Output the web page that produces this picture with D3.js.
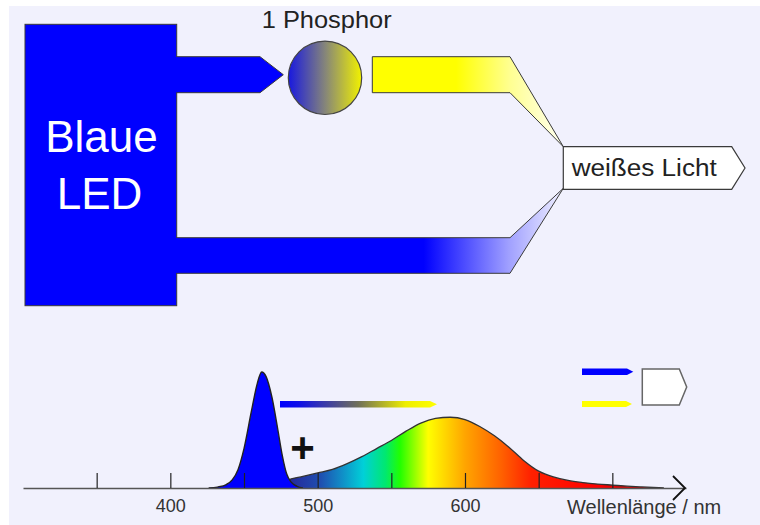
<!DOCTYPE html>
<html>
<head>
<meta charset="utf-8">
<script src="https://cdn.jsdelivr.net/npm/d3@7"></script>
<style>
body { margin: 0; background: #fff; }
svg { display: block; font-family: "Liberation Sans", Arial, Helvetica, sans-serif; }
</style>
</head>
<body>
<svg id="chart" width="760" height="525"></svg>
<script>
// blue LED emission (wavelength nm, relative intensity)
var blueNm  = [426, 432, 438, 442, 446, 450, 455, 459, 462, 465, 469, 473, 476, 479, 482, 486, 490];
var blueVal = [0, 0.008, 0.03, 0.07, 0.16, 0.34, 0.66, 0.9, 1.0, 0.96, 0.78, 0.5, 0.28, 0.12, 0.05, 0.015, 0];

// phosphor emission, same units
var phosNm  = [472, 480, 490, 500, 510, 520, 530, 540, 550, 560, 570, 580, 590, 600, 610, 620, 630, 640, 650, 660, 670, 680, 690, 700, 710, 720, 735];
var phosVal = [0, 0.07, 0.1, 0.13, 0.16, 0.21, 0.27, 0.34, 0.41, 0.49, 0.56, 0.60, 0.61, 0.59, 0.53, 0.45, 0.35, 0.235, 0.145, 0.095, 0.065, 0.047, 0.034, 0.025, 0.016, 0.009, 0];

// colours under the phosphor curve
var spectrumNm     = [480, 502, 517, 531, 546, 556, 575, 600, 625, 645, 690, 735];
var spectrumColors = ["#26269a", "#1f4fb0", "#1090c8", "#00d0d8", "#00e870", "#22ff00", "#ffff00", "#ffa500", "#ff6000", "#ff2000", "#ff0000", "#b00000"];

var tickValues = [350, 400, 450, 500, 550, 600, 650, 700];
var tickLabels = [400, 500, 600];
var axisTitle = "Wellenlänge / nm";

var svg = d3.select("#chart");
var defs = svg.append("defs");

function addGradient(id, x1, x2, stops, units) {
    var g = defs.append("linearGradient").attr("id", id)
        .attr("x1", x1).attr("x2", x2).attr("y1", 0).attr("y2", 0);
    if (units) g.attr("gradientUnits", units);
    g.selectAll("stop").data(stops).enter().append("stop")
        .attr("offset", function(d) { return d[0]; })
        .attr("stop-color", function(d) { return d[1]; });
}

addGradient("circGrad", 0, 1, [[0, "#1818e0"], [0.5, "#85857a"], [1, "#f2f200"]]);
addGradient("yellowGrad", 372, 563, [[0, "#ffff00"], [0.44, "#ffff00"], [0.72, "#ffff90"], [1, "#fffff2"]], "userSpaceOnUse");
addGradient("blueGrad", 176, 563, [[0, "#0000ff"], [0.64, "#0000ff"], [0.86, "#a0a0ff"], [1, "#f0f0ff"]], "userSpaceOnUse");
addGradient("barGrad", 280, 437, [[0, "#0000ff"], [0.12, "#1010e8"], [0.5, "#707058"], [0.8, "#eeee00"], [1, "#ffff00"]], "userSpaceOnUse");

// background
svg.append("rect").attr("x", 9).attr("y", 6).attr("width", 751).attr("height", 519).attr("fill", "#f1f1fd");

var poly = d3.line();
var edge = "#3a3a3a";

// ---- upper diagram ----
svg.append("rect")
    .attr("x", 25).attr("y", 24.3).attr("width", 151.7).attr("height", 281.4)
    .attr("fill", "#0000ff").attr("stroke", edge).attr("stroke-width", 1);

// blue light going straight to the output
svg.append("path")
    .attr("d", poly([[176, 237.7], [510, 237.7], [563.3, 188.3], [510, 273.3], [176, 273.3]]))
    .attr("fill", "url(#blueGrad)").attr("stroke", edge).attr("stroke-width", 1);
svg.append("rect").attr("x", 175).attr("y", 238.2).attr("width", 3).attr("height", 34.6).attr("fill", "#0000ff");

// blue light to the phosphor
svg.append("path")
    .attr("d", poly([[176, 56.7], [260, 56.7], [283.3, 74.7], [260, 92.7], [176, 92.7]]))
    .attr("fill", "#0000ff").attr("stroke", edge).attr("stroke-width", 1);
svg.append("rect").attr("x", 175).attr("y", 57.2).attr("width", 3).attr("height", 35).attr("fill", "#0000ff");

svg.append("circle")
    .attr("cx", 325).attr("cy", 77.8).attr("r", 36.7)
    .attr("fill", "url(#circGrad)").attr("stroke", "#444").attr("stroke-width", 1.2);

svg.append("text").attr("x", 261.7).attr("y", 28.3)
    .attr("font-size", 24).attr("fill", "#222")
    .attr("textLength", 130).attr("lengthAdjust", "spacingAndGlyphs")
    .text("1 Phosphor");

// yellow light from phosphor
svg.append("path")
    .attr("d", poly([[372.3, 56.7], [510, 56.7], [563.3, 146.7], [510, 92.7], [372.3, 92.7]]) + "Z")
    .attr("fill", "url(#yellowGrad)").attr("stroke", edge).attr("stroke-width", 1);

// white light output
svg.append("path")
    .attr("d", poly([[563.3, 146.7], [731.7, 146.7], [745, 168], [731.7, 189.3], [563.3, 189.3]]) + "Z")
    .attr("fill", "#fff").attr("stroke", edge).attr("stroke-width", 1.2);
svg.append("text").attr("x", 571.7).attr("y", 176.3)
    .attr("font-size", 23).attr("fill", "#222")
    .attr("textLength", 145).attr("lengthAdjust", "spacingAndGlyphs")
    .text("weißes Licht");

svg.append("text").attr("x", 101.5).attr("y", 151.7).attr("text-anchor", "middle")
    .attr("font-size", 44).attr("fill", "#fff").text("Blaue");
svg.append("text").attr("x", 99.5).attr("y", 209).attr("text-anchor", "middle")
    .attr("font-size", 44).attr("fill", "#fff").text("LED");

// ---- spectrum ----
var x = d3.scaleLinear().domain([300, 750]).range([23, 686]);
var y = d3.scaleLinear().domain([0, 1]).range([488, 372]);

var specGrad = defs.append("linearGradient").attr("id", "specGrad")
    .attr("gradientUnits", "userSpaceOnUse")
    .attr("x1", x(spectrumNm[0])).attr("x2", x(spectrumNm[spectrumNm.length - 1]))
    .attr("y1", 0).attr("y2", 0);
var span = spectrumNm[spectrumNm.length - 1] - spectrumNm[0];
specGrad.selectAll("stop").data(spectrumNm).enter().append("stop")
    .attr("offset", function(d) { return (d - spectrumNm[0]) / span; })
    .attr("stop-color", function(d, i) { return spectrumColors[i]; });

var phos = phosNm.map(function(d, i) { return [d, phosVal[i]]; });
var blue = blueNm.map(function(d, i) { return [d, blueVal[i]]; });

var area = d3.area()
    .x(function(d) { return x(d[0]); })
    .y0(y(0))
    .y1(function(d) { return y(d[1]); })
    .curve(d3.curveMonotoneX);
var line = d3.line()
    .x(function(d) { return x(d[0]); })
    .y(function(d) { return y(d[1]); })
    .curve(d3.curveMonotoneX);

svg.append("path").attr("d", area(phos)).attr("fill", "url(#specGrad)");
svg.append("path").attr("d", line(phos)).attr("fill", "none").attr("stroke", "#333").attr("stroke-width", 1.3);

svg.append("path").attr("d", area(blue)).attr("fill", "#0000ff");
svg.append("path").attr("d", line(blue)).attr("fill", "none").attr("stroke", "#222").attr("stroke-width", 1.4);

var axis = svg.append("g")
    .attr("transform", "translate(0," + y(0) + ")")
    .call(d3.axisBottom(x)
        .tickValues(tickValues)
        .tickSizeInner(-15)
        .tickSizeOuter(0)
        .tickPadding(11)
        .tickFormat(function(d) { return tickLabels.indexOf(d) >= 0 ? d : ""; }));
axis.select(".domain").attr("stroke", "#555").attr("stroke-width", 1.6);
axis.selectAll(".tick line").attr("stroke", "#222").attr("stroke-width", 1.2);
axis.selectAll(".tick text").attr("font-size", 18).attr("fill", "#333")
    .attr("font-family", "Liberation Sans, Arial, sans-serif");

// arrow head on the axis
svg.append("path")
    .attr("d", poly([[x(750) - 13, y(0) - 12], [x(750) - 1, y(0)], [x(750) - 13, y(0) + 12]]))
    .attr("fill", "none").attr("stroke", "#111").attr("stroke-width", 1.8);

svg.append("text").attr("x", 567).attr("y", 514)
    .attr("font-size", 20).attr("fill", "#333").text(axisTitle);

// blue + yellow = white
svg.append("path")
    .attr("d", poly([[280, 401], [430, 401], [437, 404.3], [430, 407.6], [280, 407.6]]) + "Z")
    .attr("fill", "url(#barGrad)");
svg.append("text").attr("x", 302.5).attr("y", 462).attr("text-anchor", "middle")
    .attr("font-size", 42).attr("font-weight", "bold").attr("fill", "#111").text("+");

svg.append("path")
    .attr("d", poly([[582, 368.5], [627, 368.5], [633.3, 371.7], [627, 375], [582, 375]]) + "Z")
    .attr("fill", "#0000ff");
svg.append("path")
    .attr("d", poly([[582, 401], [626, 401], [632, 404], [626, 407], [582, 407]]) + "Z")
    .attr("fill", "#ffff00");
svg.append("path")
    .attr("d", poly([[642.3, 369], [679.3, 369], [686.7, 387], [679.3, 405], [642.3, 405]]) + "Z")
    .attr("fill", "#fff").attr("stroke", "#666").attr("stroke-width", 1.5);
</script>
</body>
</html>
